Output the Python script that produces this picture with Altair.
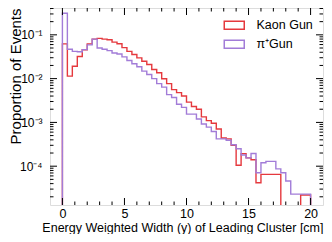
import altair as alt
import pandas as pd

# ---- data (bin width 0.4, 0..20) ----
EDGES = [round(i * 0.4, 1) for i in range(51)]
KAON = [0.062, 0.0114, 0.0192, 0.032, 0.0457, 0.062, 0.080, 0.083, 0.080, 0.077,
        0.068, 0.0625, 0.051, 0.042, 0.0355, 0.0297, 0.025, 0.021, 0.0162, 0.0136,
        0.0099, 0.0077, 0.0056, 0.0048, 0.0040, 0.0029, 0.0023, 0.0020, 0.00134, 0.0011,
        0.00096, 0.00071, 0.00044, 0.00042, 0.00030, 0.000105, 0.000194, 0.000155, 0.00014, 0.000042,
        0.000065, 0.000065, 0.000065, 0.000065, 0, 0, 0, 0, 0.000022, 0.000022]
PION = [0.31, 0.047, 0.042, 0.041, 0.046, 0.059, 0.080, 0.050, 0.047, 0.0435,
        0.0385, 0.0365, 0.0313, 0.026, 0.0218, 0.0187, 0.0148, 0.0124, 0.010, 0.0077,
        0.0064, 0.0043, 0.0037, 0.0026, 0.0022, 0.00155, 0.00155, 0.0012, 0.00092, 0.00078,
        0.00062, 0.00042, 0.00042, 0.00039, 0.00031, 0.00025, 0.00018, 0.000155, 0.000195, 0.000071,
        0.00012, 0.000129, 0.000129, 0.000087, 0.000071, 0.000046, 0.000023, 0.000023, 0.000023, 0.000023]
SERIES = ["Kaon Gun", "π⁺Gun"]
COLORS = ["#e5393e", "#a27cd8"]

X_MAJOR = [0, 5, 10, 15, 20]
X_MINOR = [i for i in range(1, 21) if i % 5 != 0]
Y_MAJOR = [1e-4, 1e-3, 1e-2, 1e-1]
Y_LABELS = ["10⁻⁴", "10⁻³", "10⁻²", "10⁻¹"]
Y_MINOR = [k * 10.0 ** n for n in range(-5, 0) for k in range(2, 10)
           if 1.3e-5 < k * 10.0 ** n < 0.41]

FLOOR = 1e-7
W, H = 273, 197
FONT = "Liberation Sans"


def step_rows(name, vals):
    rows = [{"x": EDGES[0], "y": FLOOR, "s": name}]
    for e, v in zip(EDGES[:-1], vals):
        rows.append({"x": e, "y": v if v > 0 else FLOOR, "s": name})
    rows.append({"x": EDGES[-1], "y": FLOOR, "s": name})
    for i, r in enumerate(rows):
        r["i"] = i
    return pd.DataFrame(rows)


xs = alt.Scale(domain=[-1, 21], nice=False, zero=False)
ys = alt.Scale(type="log", domain=[1.3e-5, 0.41], nice=False)
cs = alt.Scale(domain=SERIES, range=COLORS)

label_expr = " : ".join(
    f"datum.value < {v * 3:g} ? '{l}'" for v, l in zip(Y_MAJOR[:-1], Y_LABELS[:-1])
) + f" : '{Y_LABELS[-1]}'"

legend = alt.Legend(
    title=None, orient="none", legendX=178, legendY=11,
    symbolType="M-2,-0.8H2V0.8H-2Z", symbolSize=100, symbolStrokeWidth=1.5,
    labelFont=FONT, labelFontSize=12.5, labelColor="black", labelOffset=16,
    rowPadding=4, padding=0,
)

x_axis = alt.Axis(values=X_MAJOR, ticks=False, domain=False, grid=False,
                  labelFont=FONT, labelFontSize=12.5, labelColor="black", labelPadding=2,
                  title="Energy Weighted Width (y) of Leading Cluster [cm]",
                  titleFont=FONT, titleFontSize=12.5, titleFontWeight="normal", titleColor="black",
                  titleAnchor="end", titleAlign="right", titleX=W, titleY=26,
                  titleBaseline="alphabetic")
y_axis = alt.Axis(values=Y_MAJOR, ticks=False, domain=False, grid=False,
                  labelExpr=label_expr, labelFont=FONT, labelFontSize=12,
                  labelColor="black", labelPadding=8,
                  title="Proportion of Events", titleFont=FONT, titleFontSize=15,
                  titleFontWeight="normal", titleColor="black", titleAngle=-90,
                  titleAlign="right", titleBaseline="top", titleX=-42, titleY=0)


def line_layer(name, vals, axes):
    df = step_rows(name, vals)
    xe = alt.X("x:Q", scale=xs, axis=x_axis) if axes else alt.X("x:Q", scale=xs)
    ye = alt.Y("y:Q", scale=ys, axis=y_axis) if axes else alt.Y("y:Q", scale=ys)
    return alt.Chart(df).mark_line(interpolate="step-after", clip=True, strokeWidth=1.4).encode(
        x=xe, y=ye, order="i:Q",
        color=alt.Color("s:N", scale=cs, legend=legend),
    )


def xticks(vals, L):
    df = pd.DataFrame({"x": vals})
    bot = alt.Chart(df).mark_rule(color="black", strokeWidth=1).encode(
        x=alt.X("x:Q", scale=xs), y=alt.value(H), y2=alt.value(H - L))
    top = alt.Chart(df).mark_rule(color="black", strokeWidth=1).encode(
        x=alt.X("x:Q", scale=xs), y=alt.value(0), y2=alt.value(L))
    return [bot, top]


def yticks(vals, L):
    df = pd.DataFrame({"y": vals})
    left = alt.Chart(df).mark_rule(color="black", strokeWidth=1).encode(
        y=alt.Y("y:Q", scale=ys), x=alt.value(0), x2=alt.value(L))
    right = alt.Chart(df).mark_rule(color="black", strokeWidth=1).encode(
        y=alt.Y("y:Q", scale=ys), x=alt.value(W), x2=alt.value(W - L))
    return [left, right]


layers = [line_layer(SERIES[0], KAON, True), line_layer(SERIES[1], PION, False)]
layers += xticks(X_MAJOR, 7) + xticks(X_MINOR, 3.5) + yticks(Y_MAJOR, 7) + yticks(Y_MINOR, 3.5)

chart = alt.layer(*layers).properties(
    width=W, height=H,
    autosize=alt.AutoSizeParams(type="none"),
    padding={"left": 42, "top": 0, "right": 1, "bottom": 29},
).configure_view(stroke="black", strokeWidth=1.5).configure(background="white")

chart.save("out.html", embed_options={"renderer": "svg", "actions": False})
